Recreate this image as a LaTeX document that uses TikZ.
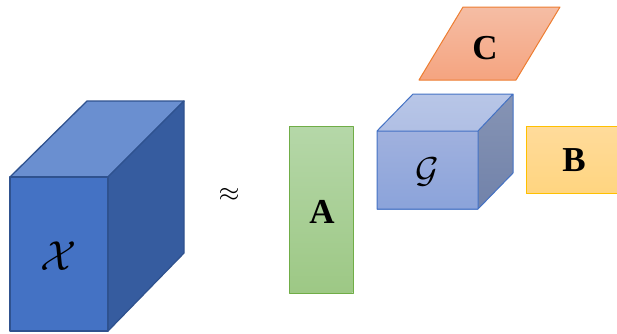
\documentclass[tikz,border=0pt]{standalone}
\usepackage{fontspec}
\setmainfont{Liberation Serif}
\usepackage{amsmath}
\begin{document}
\begin{tikzpicture}[x=1pt,y=-1pt,line join=round,
  lbl/.style={font=\fontsize{35}{36}\selectfont\bfseries}]
\definecolor{xfront}{HTML}{4472C4}
\definecolor{xtop}{HTML}{6A8FD0}
\definecolor{xside}{HTML}{365C9F}
\definecolor{xline}{HTML}{2F528F}
\definecolor{gline}{HTML}{4472C4}
\definecolor{aline}{HTML}{70AD47}
\definecolor{bline}{HTML}{FFC000}
\definecolor{cline}{HTML}{ED7D31}
\useasboundingbox (0,0) rectangle (617,333);
% X cube
\draw[xline,line width=1.3pt,fill=xtop] (10,177) -- (87,101) -- (184,101) -- (108,177) -- cycle;
\draw[xline,line width=1.3pt,fill=xside] (108,177) -- (184,101) -- (184,253) -- (108,331) -- cycle;
\draw[xline,line width=1.3pt,fill=xfront] (10,177) rectangle (108,331);
\node (X) at (59,256) {\scalebox{4.2}{$\mathcal{X}$}};
% approx
\node (approx) at (229,195) {\scalebox{2.7}{$\approx$}};
% A
\shade[top color={rgb,255:red,181;green,215;blue,168},bottom color={rgb,255:red,157;green,200;blue,133}] (289.5,126.5) rectangle (352.5,292.5);
\draw[aline,line width=1pt] (289,126) rectangle (353,293);
\node[lbl] (A) at (322,212) {A};
% G cube
\shade[top color={rgb,255:red,184;green,198;blue,231},bottom color={rgb,255:red,176;green,191;blue,228}] (377,131) -- (413,94) -- (513,94) -- (478,131) -- cycle;
\shade[top color={rgb,255:red,134;green,148;blue,180},bottom color={rgb,255:red,113;green,130;blue,170}] (478,131) -- (513,94) -- (513,173) -- (478,209) -- cycle;
\shade[top color={rgb,255:red,160;green,177;blue,222},bottom color={rgb,255:red,139;green,163;blue,218}] (377,131) rectangle (478,209);
\draw[gline,line width=1pt] (377,131) -- (413,94) -- (513,94) -- (513,173) -- (478,209) -- (377,209) -- cycle
  (377,131) -- (478,131) -- (513,94) (478,131) -- (478,209);
\node (G) at (427,172) {\scalebox{3.6}{$\mathcal{G}$}};
% B
\shade[top color={rgb,255:red,255;green,219;blue,155},bottom color={rgb,255:red,255;green,213;blue,128}] (526,126) rectangle (617,193);
\draw[bline,line width=1pt] (617,126) -- (526,126) -- (526,193) -- (617,193);
\node[lbl] (B) at (574,160) {B};
% C
\shade[top color={rgb,255:red,245;green,189;blue,164},bottom color={rgb,255:red,245;green,164;blue,128}] (419,80) -- (516,80) -- (560,7) -- (463,7) -- cycle;
\draw[cline,line width=1pt] (419,80) -- (516,80) -- (560,7) -- (463,7) -- cycle;
\node[lbl] (C) at (485,48) {C};
\end{tikzpicture}
\end{document}
